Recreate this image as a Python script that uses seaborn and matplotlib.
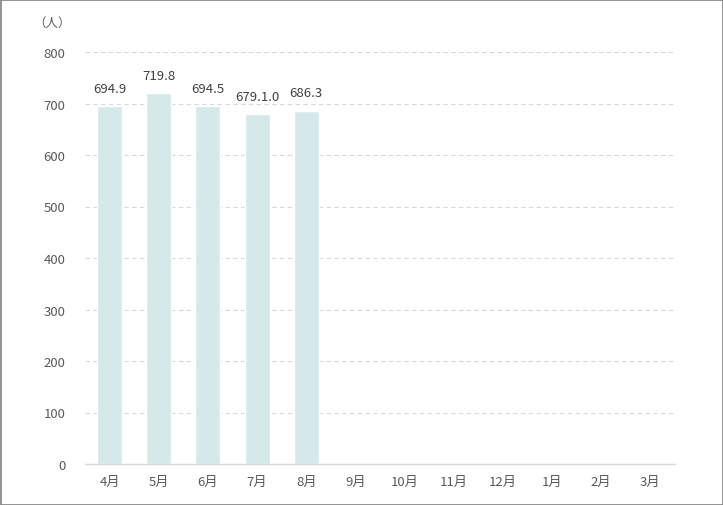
import matplotlib
matplotlib.use("Agg")
import matplotlib.pyplot as plt
import seaborn as sns
import pandas as pd
from matplotlib.patches import Rectangle

months = ["4月", "5月", "6月", "7月", "8月", "9月", "10月", "11月", "12月", "1月", "2月", "3月"]
data_months = ["4月", "5月", "6月", "7月", "8月"]
values = [694.9, 719.8, 694.5, 679.1, 686.3]
value_labels = ["694.9", "719.8", "694.5", "679.1.0", "686.3"]
y_ticks = [0, 100, 200, 300, 400, 500, 600, 700, 800]

sns.set_theme(style="white")
plt.rcParams['font.family'] = ['Noto Sans CJK JP', 'DejaVu Sans']

df = pd.DataFrame({"month": data_months, "value": values})

fig = plt.figure(figsize=(7.23, 5.06), dpi=100)
ax = fig.add_axes([85 / 723, 41 / 506, 590 / 723, 412 / 506])

sns.barplot(data=df, x="month", y="value", order=months, color="#d5e8ea",
            saturation=1, width=0.51, ax=ax)

ax.set_xlim(-0.5, 11.5)
ax.set_ylim(0, 800)
ax.set_yticks(y_ticks)
ax.set_xlabel("")
ax.set_ylabel("")

ax.yaxis.grid(True, linestyle=(0, (4, 3)), color="#d9d9d9", linewidth=0.8)
ax.set_axisbelow(True)
for side in ["top", "right", "left"]:
    ax.spines[side].set_visible(False)
ax.spines["bottom"].set_color("#d9d9d9")
ax.spines["bottom"].set_linewidth(1)

ax.tick_params(axis="both", length=0, labelsize=9.5, colors="#595959")
ax.tick_params(axis="x", pad=8)
ax.tick_params(axis="y", pad=14)

for patch, lab in zip(ax.patches, value_labels):
    ax.annotate(lab, (patch.get_x() + patch.get_width() / 2, patch.get_height()),
                xytext=(0, 8), textcoords="offset points", ha="center", va="bottom",
                fontsize=9.5, color="#404040")

fig.text(52 / 723, 1 - 23 / 506, "（人）", ha="center", va="center",
         fontsize=9, color="#595959")

fig.patches.append(Rectangle((0.5 / 723, 0.5 / 506), 722 / 723, 505 / 506,
                             transform=fig.transFigure, fill=False,
                             edgecolor="#808080", linewidth=1.2))

fig.savefig("out.png", dpi=100)
